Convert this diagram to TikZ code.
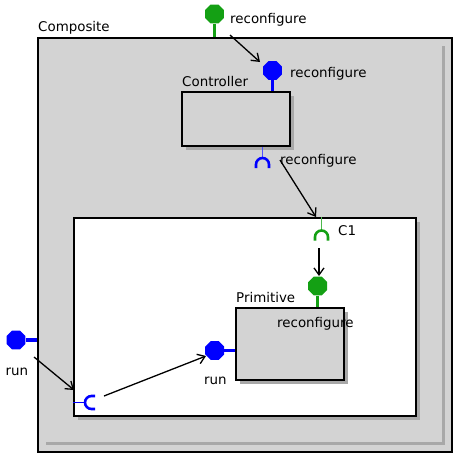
\documentclass[tikz,border=0pt]{standalone}
\usepackage{fontspec}
\setmainfont{DejaVu Sans}
\usetikzlibrary{shapes.geometric,arrows.meta}
\definecolor{pgray}{HTML}{D3D3D3}
\definecolor{shgray}{HTML}{A8A8A8}
\definecolor{pgreen}{HTML}{14A014}
\definecolor{lgreen}{HTML}{4CB84C}
\definecolor{pblue}{HTML}{0000FF}
\definecolor{lblue}{HTML}{5050FF}
\tikzset{
  box/.style={draw=black, line width=1.4pt, fill=pgray, rectangle, inner sep=0pt},
  shadowed/.style={preaction={fill=shgray, transform canvas={shift={(3.5pt,-3.5pt)}}}},
  port/.style={regular polygon, regular polygon sides=8, minimum size=20.5pt, inner sep=0pt, draw=none},
  stemthick/.style={line width=3.5pt},
  stemthin/.style={line width=1.1pt},
  sock/.style={line width=2.6pt},
  lbl/.style={anchor=base west, inner sep=0pt, font=\fontsize{13.4}{16}\selectfont},
  conn/.style={line width=1.3pt, -{Straight Barb[length=7pt,width=10pt]}},
}
\begin{document}
\begin{tikzpicture}[x=1pt,y=-1pt]
\useasboundingbox (0,0) rectangle (459,458);
% Composite
\node[box, minimum width=414pt, minimum height=414pt] (comp) at (245,245) {};
\draw[shgray, line width=3pt] (46,443) -- (443,443) -- (443,46);
\node[lbl] (compl) at (38,31) {Composite};
% Controller
\node[box, shadowed, minimum width=108pt, minimum height=54pt] (ctrl) at (236,119) {};
\node[lbl] (ctrll) at (182,86) {Controller};
% Inner box
\node[box, shadowed, fill=white, minimum width=342pt, minimum height=198pt] (inner) at (245,317) {};
% Primitive
\node[box, shadowed, minimum width=108pt, minimum height=72pt] (prim) at (290,344) {};
\node[lbl] (priml) at (236,302) {Primitive};
\node[lbl] (primr) at (277,327) {reconfigure};
% top composite port
\node[port, fill=pgreen] (topport) at (214.5,14) {};
\draw[stemthick, pgreen] (topport) -- (topport |- comp.north);
\node[lbl] (topl) at (230,23) {reconfigure};
% controller port
\node[port, fill=pblue] (ctrlport) at (272.5,70.5) {};
\draw[stemthick, pblue] (ctrlport) -- (ctrlport |- ctrl.north);
\node[lbl] (ctrlpl) at (290,77) {reconfigure};
% controller socket
\coordinate (ctrlsock) at (262.5,158);
\draw[stemthin, lblue] (ctrlsock |- ctrl.south) -- (ctrlsock);
\draw[sock, pblue] (256,168) -- (256,164.5) arc[start angle=180, end angle=360, radius=6.5] -- (269,168);
\node[lbl] (ctrlsl) at (280,164) {reconfigure};
% C1 socket
\coordinate (c1sock) at (321.5,230.5);
\draw[stemthin, lgreen] (c1sock |- inner.north) -- (c1sock);
\draw[sock, pgreen] (315,240.5) -- (315,237) arc[start angle=180, end angle=360, radius=6.5] -- (328,240.5);
\node[lbl] (c1l) at (338,235) {C1};
% primitive ports
\node[port, fill=pgreen] (primport) at (317.7,286) {};
\draw[stemthick, pgreen] (primport) -- (primport |- prim.north);
\node[port, fill=pblue] (runport) at (214.7,350.5) {};
\draw[stemthick, pblue] (runport) -- (runport -| prim.west);
\node[lbl] (runl) at (204,384) {run};
% left composite port
\node[port, fill=pblue] (leftport) at (16,340) {};
\draw[stemthick, pblue] (leftport) -- (leftport -| comp.west);
\node[lbl] (leftl) at (5.5,375) {run};
% lower-left socket
\coordinate (llsock) at (85,402.5);
\draw[stemthin, pblue] (llsock -| inner.west) -- (llsock);
\draw[sock, pblue] (95,396) -- (91.5,396) arc[start angle=270, end angle=90, radius=6.5] -- (95,409);
% connectors
\coordinate (a1s) at (230,35);   \coordinate (a1e) at (260,62);
\coordinate (a2s) at (280,160);  \coordinate (a2e) at (316,217);
\coordinate (a3s) at (319,248);  \coordinate (a3e) at (319,276);
\coordinate (a4s) at (34,357);   \coordinate (a4e) at (74,390);
\coordinate (a5s) at (104,396);  \coordinate (a5e) at (206,356);
\draw[conn] (a1s) -- (a1e);
\draw[conn] (a2s) -- (a2e);
\draw[conn] (a3s) -- (a3e);
\draw[conn] (a4s) -- (a4e);
\draw[conn] (a5s) -- (a5e);
\end{tikzpicture}
\end{document}
